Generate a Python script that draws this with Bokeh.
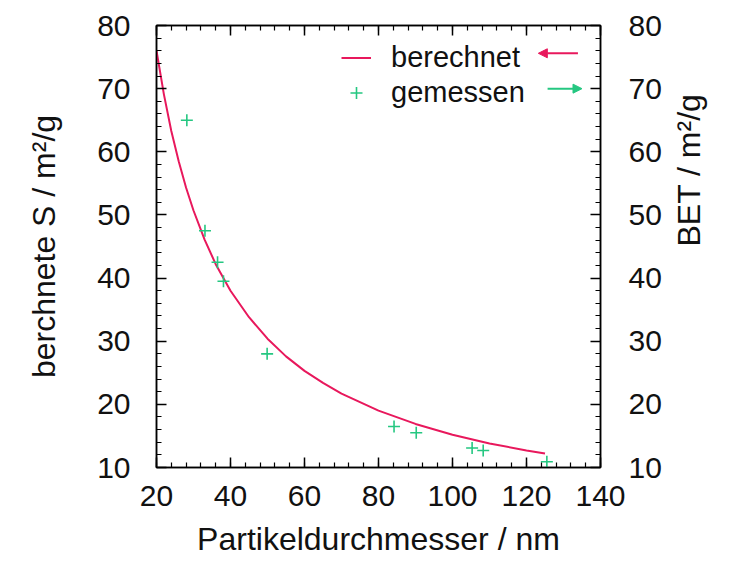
import math
from bokeh.plotting import figure
from bokeh.models import (LinearAxis, Range1d, Legend, LegendItem, Arrow, NormalHead,
                          FixedTicker)
from bokeh.embed import file_html
from bokeh.resources import INLINE

# ---- data ----
d_calc = [20, 22, 24, 26, 28, 30, 33, 36, 40, 45, 50, 55, 60, 65, 70, 80, 90, 100, 110, 120, 125]
s_calc = [76.0, 69.1, 63.3, 58.5, 54.3, 50.7, 46.1, 42.2, 38.0, 33.8, 30.4, 27.6, 25.3, 23.4,
          21.7, 19.0, 16.9, 15.2, 13.8, 12.7, 12.2]

d_meas = [28.2, 33.1, 36.5, 38.1, 49.9, 84.2, 90.2, 105.3, 108.3, 125.5]
s_meas = [65.0, 47.5, 42.5, 39.5, 28.0, 16.5, 15.5, 13.1, 12.7, 10.9]

x_ticks = [20, 40, 60, 80, 100, 120, 140]
y_ticks = [10, 20, 30, 40, 50, 60, 70, 80]

RED = "#e8185c"
GREEN = "#25c781"
FONT = "Liberation Sans"
TXT = "#111111"

p = figure(width=744, height=572, output_backend="svg", toolbar_location=None,
           x_range=Range1d(20, 140), y_range=Range1d(10, 80),
           min_border_left=156, min_border_right=144, min_border_top=25, min_border_bottom=105,
           background_fill_color="white", border_fill_color="white")
p.xgrid.visible = False
p.ygrid.visible = False
p.outline_line_color = "black"
p.outline_line_width = 1.5
p.xaxis.visible = False
p.yaxis.visible = False

def style(ax, size="30px"):
    ax.major_tick_in = 10
    ax.major_tick_out = 0
    ax.minor_tick_in = 5
    ax.minor_tick_out = 0
    ax.axis_line_color = "black"
    ax.axis_line_width = 1.5
    ax.major_tick_line_width = 1.5
    ax.minor_tick_line_width = 1.2
    ax.major_label_text_font = FONT
    ax.major_label_text_font_size = size
    ax.major_label_text_color = TXT
    ax.axis_label_text_font = FONT
    ax.axis_label_text_font_size = "32px"
    ax.axis_label_text_font_style = "normal"
    ax.axis_label_text_color = TXT

xt = FixedTicker(ticks=x_ticks, minor_ticks=list(range(20, 141, 4)))
yt = FixedTicker(ticks=y_ticks, minor_ticks=list(range(10, 81, 2)))

xb = LinearAxis(ticker=xt, axis_label="Partikeldurchmesser / nm")
style(xb)
xb.major_label_standoff = 18
xb.axis_label_standoff = 12
p.add_layout(xb, "below")

# top axis: ticks only (labels blanked)
xa = LinearAxis(ticker=xt, major_label_overrides={t: "" for t in x_ticks})
style(xa, size="1px")
xa.major_label_standoff = 0
p.add_layout(xa, "above")

yl = LinearAxis(ticker=yt, axis_label="berchnete S / m²/g")
style(yl)
yl.major_label_standoff = 26
yl.axis_label_standoff = 32
p.add_layout(yl, "left")

yr = LinearAxis(ticker=yt, axis_label="BET / m²/g")
style(yr)
yr.major_label_standoff = 28
yr.axis_label_standoff = 24
yr.axis_label_orientation = math.pi / 2
yr.axis_label_text_align = "center"
p.add_layout(yr, "right")

r_line = p.line(d_calc, s_calc, line_color=RED, line_width=2)
r_pts = p.scatter(d_meas, s_meas, marker="cross", size=12, line_color=GREEN, line_width=1.6)

legend = Legend(items=[LegendItem(label="berechnet", renderers=[r_line]),
                       LegendItem(label="gemessen", renderers=[r_pts])],
                location=(185, 357), orientation="vertical")
legend.label_text_font = FONT
legend.label_text_font_size = "29px"
legend.label_text_color = TXT
legend.border_line_color = None
legend.background_fill_alpha = 0
legend.glyph_width = 30
legend.glyph_height = 35
legend.label_height = 35
legend.label_standoff = 20
legend.spacing = 0
legend.padding = 5
legend.margin = 0
p.add_layout(legend)

# axis-indicating arrows beside the legend entries
p.add_layout(Arrow(x_start=133.9, y_start=75.6, x_end=123.2, y_end=75.6,
                   line_color=RED, line_width=2,
                   end=NormalHead(size=9, fill_color=RED, line_color=RED)))
p.add_layout(Arrow(x_start=125.7, y_start=70.0, x_end=135.0, y_end=70.0,
                   line_color=GREEN, line_width=2,
                   end=NormalHead(size=9, fill_color=GREEN, line_color=GREEN)))

open("out.html", "w").write(file_html(p, INLINE))
